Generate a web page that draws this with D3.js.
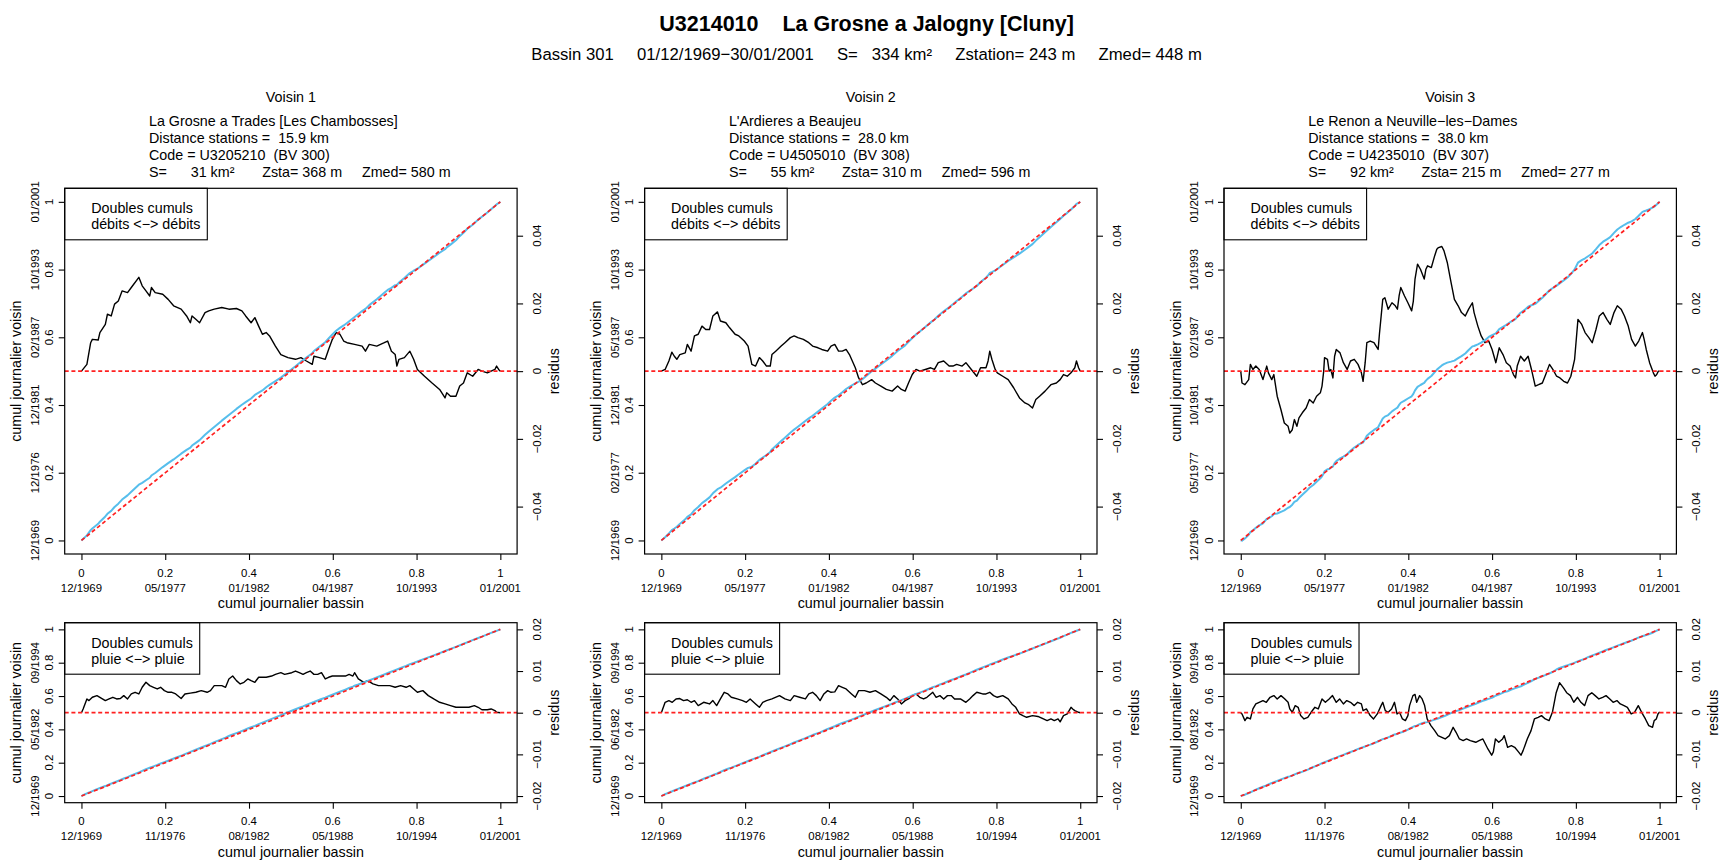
<!DOCTYPE html>
<html><head><meta charset="utf-8">
<script src="https://cdn.jsdelivr.net/npm/d3@7"></script>
<style>
body{margin:0;background:#fff}
svg{display:block}
text{font-family:"Liberation Sans",Arial,Helvetica,sans-serif;white-space:pre;fill:#000}
</style>
</head><body>
<script>
// ---------------- DATA ----------------
const mainTitle = "U3214010    La Grosne a Jalogny [Cluny]";
const mainSubtitle = "Bassin 301     01/12/1969\u221230/01/2001     S=   334 km\u00b2     Zstation= 243 m     Zmed= 448 m";

const neighbourTitles = ["Voisin 1", "Voisin 2", "Voisin 3"];
const neighbourNames = ["La Grosne a Trades [Les Chambosses]", "L'Ardieres a Beaujeu", "Le Renon a Neuville\u2212les\u2212Dames"];
const neighbourDistances = ["Distance stations =  15.9 km", "Distance stations =  28.0 km", "Distance stations =  38.0 km"];
const neighbourCodes = ["Code = U3205210  (BV 300)", "Code = U4505010  (BV 308)", "Code = U4235010  (BV 307)"];
const neighbourAreas = ["S=      31 km\u00b2       Zsta= 368 m     Zmed= 580 m",
                        "S=      55 km\u00b2       Zsta= 310 m     Zmed= 596 m",
                        "S=      92 km\u00b2       Zsta= 215 m     Zmed= 277 m"];

const cumulTicks = [0, 0.2, 0.4, 0.6, 0.8, 1];
const cumulTickLabels = ["0", "0.2", "0.4", "0.6", "0.8", "1"];
const flowXDates = ["12/1969", "05/1977", "01/1982", "04/1987", "10/1993", "01/2001"];
const rainXDates = ["12/1969", "11/1976", "08/1982", "05/1988", "10/1994", "01/2001"];
const flowYDates1 = ["12/1969", "12/1976", "12/1981", "02/1987", "10/1993", "01/2001"];
const flowYDates2 = ["12/1969", "02/1977", "12/1981", "05/1987", "10/1993", "01/2001"];
const flowYDates3 = ["12/1969", "05/1977", "10/1981", "02/1987", "10/1993", "01/2001"];
const rainYDates1 = ["12/1969", "", "05/1982", "", "09/1994", ""];
const rainYDates2 = ["12/1969", "", "06/1982", "", "09/1994", ""];
const rainYDates3 = ["12/1969", "", "08/1982", "", "09/1994", ""];

const flowResTicks = [-0.04, -0.02, 0, 0.02, 0.04];
const flowResTickLabels = ["\u22120.04", "\u22120.02", "0", "0.02", "0.04"];
const rainResTicks = [-0.02, -0.01, 0, 0.01, 0.02];
const rainResTickLabels = ["\u22120.02", "\u22120.01", "0", "0.01", "0.02"];

const flowLegend = ["Doubles cumuls", "d\u00e9bits <\u2212> d\u00e9bits"];
const rainLegend = ["Doubles cumuls", "pluie <\u2212> pluie"];
const xLabel = "cumul journalier bassin";
const yLabel = "cumul journalier voisin";
const rLabel = "residus";

// basin cumul (x) and residual (neighbour cumul - basin cumul), flows
const flowX1 = [0,.013,.022,.026,.040,.044,.057,.062,.071,.079,.088,.097,.110,.119,.137,.145,.154,.163,.167,.176,.194,.207,.220,.238,.251,.260,.264,.273,.282,.295,.304,.317,.335,.352,.370,.383,.392,.405,.414,.423,.432,.441,.449,.463,.476,.493,.511,.524,.537,.551,.555,.568,.582,.590,.599,.608,.617,.626,.634,.652,.670,.678,.687,.705,.723,.731,.740,.749,.753,.758,.771,.784,.793,.802,.819,.837,.855,.868,.872,.881,.894,.903,.912,.921,.934,.947,.956,.969,.978,.987,.991,.996,1];
const flowRes1 = [0,.0020,.0084,.0094,.0092,.0114,.0138,.0168,.0163,.0198,.0207,.0237,.0232,.0247,.0277,.0252,.0237,.0222,.0247,.0232,.0227,.0212,.0193,.0183,.0163,.0143,.0163,.0153,.0143,.0173,.0178,.0183,.0188,.0183,.0185,.0178,.0163,.0143,.0158,.0133,.0109,.0114,.0104,.0074,.0049,.0040,.0035,.0040,.0030,.0020,.0044,.0040,.0035,.0064,.0094,.0114,.0109,.0089,.0084,.0079,.0074,.0059,.0079,.0074,.0084,.0089,.0059,.0049,.0015,.0035,.0040,.0059,.0035,.0005,-.0015,-.0035,-.0054,-.0079,-.0064,-.0074,-.0074,-.0044,-.0035,-.0005,-.0015,.0005,0,-.0005,0,.0005,.0015,.0005,0];

const flowX2 = [0,.009,.018,.025,.031,.037,.044,.057,.062,.071,.079,.088,.097,.106,.115,.123,.134,.141,.154,.163,.176,.185,.198,.207,.216,.225,.234,.242,.251,.260,.264,.273,.286,.295,.308,.317,.326,.339,.352,.361,.374,.383,.397,.405,.414,.423,.432,.441,.449,.463,.471,.480,.489,.502,.511,.524,.537,.551,.564,.573,.582,.590,.599,.608,.617,.630,.643,.652,.661,.674,.687,.696,.705,.718,.727,.740,.753,.762,.775,.780,.784,.789,.797,.802,.815,.828,.841,.855,.868,.877,.886,.894,.903,.916,.930,.943,.952,.960,.969,.978,.987,.991,.996,1];
const flowRes2 = [0,.0005,.0030,.0056,.0044,.0035,.0049,.0054,.0079,.0059,.0104,.0109,.0133,.0123,.0123,.0163,.0175,.0148,.0143,.0128,.0109,.0104,.0089,.0074,.0020,.0015,.0040,.0030,.0015,.0015,.0049,.0059,.0074,.0084,.0099,.0104,.0099,.0094,.0084,.0074,.0069,.0064,.0059,.0074,.0079,.0059,.0059,.0064,.0049,.0010,-.0020,-.0040,-.0035,-.0025,-.0035,-.0044,-.0054,-.0059,-.0044,-.0054,-.0059,-.0035,-.0010,.0005,0,.0005,.0010,.0005,.0025,.0030,.0015,.0015,.0020,.0015,.0025,.0005,-.0015,.0010,.0010,.0030,.0059,.0035,.0005,-.0005,-.0015,-.0025,-.0049,-.0079,-.0094,-.0099,-.0109,-.0084,-.0074,-.0059,-.0040,-.0035,-.0025,-.0010,-.0015,-.0005,.0010,.0030,.0010,0];

const flowX3 = [0,.003,.010,.019,.023,.029,.036,.044,.053,.062,.066,.074,.079,.087,.096,.104,.113,.117,.123,.128,.134,.139,.147,.156,.164,.173,.181,.190,.194,.198,.200,.207,.211,.215,.220,.224,.228,.237,.245,.254,.262,.271,.280,.288,.292,.297,.301,.309,.318,.328,.331,.339,.344,.352,.361,.369,.374,.378,.382,.391,.399,.408,.412,.416,.422,.429,.438,.442,.446,.455,.463,.468,.472,.480,.485,.493,.502,.510,.519,.527,.536,.544,.553,.557,.566,.574,.583,.592,.600,.609,.617,.626,.634,.643,.651,.656,.660,.668,.677,.686,.694,.703,.711,.720,.728,.737,.745,.754,.762,.771,.780,.788,.797,.805,.814,.822,.831,.839,.848,.856,.865,.874,.882,.891,.899,.908,.916,.925,.933,.942,.950,.959,.963,.968,.976,.985,.989,.993,.997,1];
const flowRes3 = [0,-.0035,-.0040,-.0025,.0020,.0005,.0015,.0005,-.0025,.0015,-.0005,-.0025,-.0010,-.0074,-.0114,-.0153,-.0163,-.0183,-.0173,-.0143,-.0163,-.0138,-.0123,-.0109,-.0084,-.0094,-.0074,-.0064,-.0044,0,.0040,.0035,0,.0005,-.0020,.0044,.0064,.0054,.0025,.0005,.0030,.0035,.0020,-.0005,-.0030,.0025,.0084,.0089,.0084,.0064,.0109,.0212,.0217,.0183,.0202,.0193,.0183,.0222,.0247,.0222,.0202,.0178,.0207,.0272,.0316,.0301,.0272,.0301,.0311,.0306,.0341,.0360,.0365,.0368,.0356,.0321,.0262,.0212,.0193,.0173,.0163,.0183,.0202,.0173,.0133,.0104,.0084,.0089,.0064,.0025,.0069,.0049,.0025,.0015,-.0010,-.0020,.0015,.0044,.0030,.0044,.0005,-.0044,-.0040,-.0035,-.0010,.0020,.0005,-.0015,-.0020,-.0030,-.0035,-.0015,.0035,.0153,.0138,.0114,.0099,.0084,.0123,.0163,.0173,.0153,.0138,.0173,.0193,.0183,.0163,.0133,.0094,.0074,.0089,.0114,.0094,.0064,.0025,-.0005,-.0015,-.0010,0,0];

// rainfall double cumuls
const rainX1 = [0,.004,.013,.018,.026,.037,.049,.057,.066,.075,.084,.093,.101,.110,.119,.128,.137,.145,.154,.163,.172,.181,.189,.198,.207,.216,.225,.238,.247,.260,.273,.286,.300,.308,.317,.335,.344,.352,.361,.370,.379,.388,.397,.405,.414,.423,.441,.454,.463,.476,.485,.502,.511,.520,.529,.537,.546,.555,.564,.573,.582,.590,.599,.617,.630,.639,.648,.652,.661,.674,.683,.696,.709,.723,.736,.749,.762,.775,.784,.793,.802,.815,.828,.841,.855,.868,.881,.894,.908,.925,.938,.947,.956,.969,.978,.987,.991,1];
const rainRes1 = [0,.0009,.0033,.0029,.0037,.0041,.0034,.0029,.0033,.0037,.0033,.0034,.0041,.0033,.0045,.0049,.0045,.0061,.0073,.0065,.0061,.0057,.0061,.0053,.0049,.0049,.0045,.0034,.0045,.0047,.0049,.0053,.0049,.0053,.0065,.0065,.0061,.0081,.0088,.0077,.0069,.0073,.0081,.0077,.0073,.0085,.0085,.0088,.0092,.0096,.0092,.0096,.0100,.0096,.0092,.0096,.0100,.0092,.0092,.0096,.0081,.0085,.0088,.0088,.0088,.0092,.0088,.0096,.0081,.0073,.0077,.0069,.0065,.0065,.0065,.0061,.0065,.0061,.0065,.0057,.0049,.0053,.0041,.0033,.0025,.0021,.0017,.0013,.0013,.0013,.0017,.0013,.0007,.0007,.0009,.0005,.0001,0];

const rainX2 = [0,.009,.018,.026,.035,.044,.053,.062,.071,.079,.088,.101,.115,.123,.132,.141,.150,.159,.167,.181,.194,.203,.212,.225,.234,.242,.251,.264,.282,.295,.308,.317,.330,.344,.352,.361,.370,.379,.388,.397,.405,.414,.423,.432,.441,.454,.463,.471,.485,.498,.511,.524,.537,.546,.555,.564,.573,.582,.590,.599,.608,.617,.626,.634,.648,.656,.665,.674,.683,.692,.700,.714,.727,.736,.744,.753,.767,.775,.784,.793,.802,.815,.828,.837,.846,.855,.863,.872,.886,.899,.912,.921,.930,.938,.947,.952,.960,.969,.978,.982,.987,.996,1];
const rainRes2 = [0,.0025,.0029,.0025,.0033,.0034,.0029,.0031,.0025,.0029,.0017,.0025,.0021,.0029,.0017,.0033,.0049,.0045,.0037,.0033,.0029,.0025,.0033,.0021,.0013,.0025,.0029,.0033,.0041,.0033,.0029,.0041,.0037,.0033,.0045,.0049,.0041,.0029,.0045,.0053,.0049,.0050,.0065,.0061,.0057,.0045,.0037,.0053,.0053,.0049,.0053,.0045,.0037,.0029,.0041,.0033,.0021,.0029,.0033,.0041,.0045,.0037,.0033,.0037,.0049,.0037,.0041,.0033,.0041,.0041,.0033,.0033,.0025,.0033,.0041,.0049,.0045,.0045,.0049,.0041,.0037,.0041,.0033,.0021,.0013,-.0003,-.0007,-.0011,-.0007,-.0009,-.0015,-.0019,-.0015,-.0019,-.0015,-.0022,-.0007,-.0003,.0013,.0009,.0005,.0001,0];

const rainX3 = [0,.003,.010,.015,.023,.029,.036,.044,.053,.061,.070,.079,.087,.096,.104,.113,.117,.123,.130,.137,.143,.151,.160,.168,.177,.185,.194,.202,.211,.219,.228,.236,.245,.253,.262,.271,.279,.288,.292,.300,.309,.317,.326,.335,.339,.345,.352,.360,.367,.373,.379,.386,.393,.399,.403,.411,.416,.420,.427,.433,.439,.445,.454,.463,.471,.480,.488,.498,.507,.514,.522,.531,.539,.548,.561,.569,.578,.584,.590,.599,.603,.608,.616,.625,.629,.637,.646,.654,.663,.669,.674,.684,.693,.701,.710,.718,.727,.736,.744,.753,.761,.770,.778,.787,.795,.804,.812,.821,.829,.838,.846,.855,.864,.872,.881,.889,.898,.906,.915,.923,.932,.940,.949,.957,.966,.974,.983,.987,.992,.996,1];
const rainRes3 = [0,-.0003,-.0019,-.0011,-.0015,.0009,.0021,.0025,.0029,.0025,.0037,.0041,.0033,.0041,.0034,.0025,.0009,.0001,.0017,.0013,-.0007,-.0015,-.0011,.0001,.0013,.0009,.0033,.0025,.0033,.0041,.0025,.0033,.0021,.0029,.0025,.0017,.0025,.0021,.0005,.0009,-.0007,-.0015,-.0003,.0017,.0025,.0005,.0001,.0009,.0025,-.0003,.0001,-.0015,-.0019,-.0007,.0017,.0041,.0044,.0025,.0041,.0033,.0017,-.0015,-.0031,-.0043,-.0055,-.0059,-.0063,-.0055,-.0035,-.0047,-.0063,-.0067,-.0063,-.0067,-.0071,-.0067,-.0063,-.0075,-.0087,-.0102,-.0094,-.0063,-.0071,-.0063,-.0055,-.0083,-.0079,-.0083,-.0094,-.0102,-.0091,-.0063,-.0043,-.0015,-.0011,-.0007,-.0015,-.0019,.0001,.0048,.0072,.0060,.0048,.0041,.0025,.0037,.0025,.0017,.0041,.0048,.0041,.0033,.0037,.0041,.0033,.0025,.0029,.0021,.0017,.0013,-.0003,.0001,.0017,.0001,-.0015,-.0031,-.0035,-.0019,-.0015,-.0003,.0002];

// ---------------- LAYOUT ----------------
const W = 1722, H = 861;
const FONT = 14.3, SMALL = 11.4, SUB = 16.7;
const BOX_W = 452.4;
const boxLefts = [64.7, 644.6, 1224.0];
const rowTop = {top: 188.3, bottom: 554.0};
const rowBot = {top: 622.7, bottom: 802.7};
const BLUE = "#56BEEC", RED = "#FF2020";

const svg = d3.select("body").append("svg")
  .attr("width", W).attr("height", H)
  .attr("xmlns", "http://www.w3.org/2000/svg");
svg.append("rect").attr("width", W).attr("height", H).attr("fill", "#fff");

svg.append("text").attr("x", 866.6).attr("y", 30.7).attr("text-anchor", "middle")
  .attr("font-size", 21.5).attr("font-weight", "bold").text(mainTitle);
svg.append("text").attr("x", 866.6).attr("y", 60.2).attr("text-anchor", "middle")
  .attr("font-size", SUB).text(mainSubtitle);

function drawPanel(L, row, xs, rs, rSpan, rTicks, rTickLabels, xDates, yDates, legendLines) {
  const T = row.top, B = row.bottom, R = L + BOX_W;
  const g = svg.append("g");
  const x = d3.scaleLinear().domain([-0.04, 1.04]).range([L, R]);
  const y = d3.scaleLinear().domain([-0.04, 1.04]).range([B, T]);
  const yr = d3.scaleLinear().domain([-rSpan, rSpan]).range([B, T]);

  const ax = g.append("g").attr("transform", `translate(0,${B})`)
    .call(d3.axisBottom(x).tickValues(cumulTicks).tickSize(6).tickSizeOuter(0).tickFormat(""));
  const ay = g.append("g").attr("transform", `translate(${L},0)`)
    .call(d3.axisLeft(y).tickValues(cumulTicks).tickSize(6).tickSizeOuter(0).tickFormat(""));
  const ar = g.append("g").attr("transform", `translate(${R},0)`)
    .call(d3.axisRight(yr).tickValues(rTicks).tickSize(6).tickSizeOuter(0).tickFormat(""));
  [ax, ay, ar].forEach(a => {
    a.select(".domain").remove();
    a.selectAll("line").attr("stroke", "#000").attr("stroke-width", 1.1);
  });

  cumulTicks.forEach((v, i) => {
    g.append("text").attr("x", x(v)).attr("y", B + 22.7).attr("text-anchor", "middle")
      .attr("font-size", SMALL).text(cumulTickLabels[i]);
    g.append("text").attr("x", x(v)).attr("y", B + 37.7).attr("text-anchor", "middle")
      .attr("font-size", SMALL).text(xDates[i]);
    g.append("text").attr("transform", `translate(${L - 11.3},${y(v)}) rotate(-90)`)
      .attr("text-anchor", "middle").attr("font-size", SMALL).text(cumulTickLabels[i]);
    if (yDates[i]) g.append("text").attr("transform", `translate(${L - 25.6},${y(v)}) rotate(-90)`)
      .attr("text-anchor", "middle").attr("font-size", SMALL).text(yDates[i]);
  });
  rTicks.forEach((v, i) => {
    g.append("text").attr("transform", `translate(${R + 23.7},${yr(v)}) rotate(-90)`)
      .attr("text-anchor", "middle").attr("font-size", SMALL).text(rTickLabels[i]);
  });
  g.append("text").attr("x", (L + R) / 2).attr("y", B + 54.3).attr("text-anchor", "middle")
    .attr("font-size", FONT).text(xLabel);
  g.append("text").attr("transform", `translate(${L - 43.5},${(T + B) / 2}) rotate(-90)`)
    .attr("text-anchor", "middle").attr("font-size", FONT).text(yLabel);
  g.append("text").attr("transform", `translate(${R + 42},${(T + B) / 2}) rotate(-90)`)
    .attr("text-anchor", "middle").attr("font-size", FONT).text(rLabel);

  const pts = d3.zip(xs, rs);
  // residual curve
  g.append("path").attr("d", d3.line().x(d => x(d[0])).y(d => yr(d[1]))(pts))
    .attr("fill", "none").attr("stroke", "#000").attr("stroke-width", 1.4).attr("stroke-linejoin", "round");
  // neighbour cumul = basin cumul + residual
  g.append("path").attr("d", d3.line().x(d => x(d[0])).y(d => y(d[0] + d[1]))(pts))
    .attr("fill", "none").attr("stroke", BLUE).attr("stroke-width", 2).attr("stroke-linejoin", "round");
  // reference diagonal
  g.append("line").attr("x1", x(0)).attr("y1", y(0)).attr("x2", x(1)).attr("y2", y(1))
    .attr("stroke", RED).attr("stroke-width", 1.7).attr("stroke-dasharray", "4,2.7");
  // zero residual line
  g.append("line").attr("x1", L).attr("x2", R).attr("y1", yr(0)).attr("y2", yr(0))
    .attr("stroke", RED).attr("stroke-width", 1.7).attr("stroke-dasharray", "4,2.7");

  // legend
  const lg = g.append("g");
  const lt = legendLines.map((s, i) => lg.append("text").attr("x", L + 26.5).attr("y", T + 24.8 + i * 16)
    .attr("font-size", FONT).text(s));
  const tw = d3.max(lt, t => t.node().getComputedTextLength());
  lg.insert("rect", "text").attr("x", L).attr("y", T).attr("width", 26.5 + tw + 6.8).attr("height", 51.5)
    .attr("fill", "#fff").attr("stroke", "#000").attr("stroke-width", 1.1);

  // box
  g.append("rect").attr("x", L).attr("y", T).attr("width", BOX_W).attr("height", B - T)
    .attr("fill", "none").attr("stroke", "#000").attr("stroke-width", 1.2);
}

const flowData = [[flowX1, flowRes1], [flowX2, flowRes2], [flowX3, flowRes3]];
const rainData = [[rainX1, rainRes1], [rainX2, rainRes2], [rainX3, rainRes3]];
const flowYDates = [flowYDates1, flowYDates2, flowYDates3];
const rainYDates = [rainYDates1, rainYDates2, rainYDates3];

boxLefts.forEach((L, i) => {
  const cx = L + BOX_W / 2;
  svg.append("text").attr("x", cx).attr("y", 102).attr("text-anchor", "middle")
    .attr("font-size", FONT).text(neighbourTitles[i]);
  [neighbourNames[i], neighbourDistances[i], neighbourCodes[i], neighbourAreas[i]].forEach((s, k) => {
    svg.append("text").attr("x", L + 84.3).attr("y", 125.7 + k * 17).attr("font-size", FONT).text(s);
  });
  drawPanel(L, rowTop, flowData[i][0], flowData[i][1], 0.054, flowResTicks, flowResTickLabels,
            flowXDates, flowYDates[i], flowLegend);
  drawPanel(L, rowBot, rainData[i][0], rainData[i][1], 0.0216, rainResTicks, rainResTickLabels,
            rainXDates, rainYDates[i], rainLegend);
});
</script>
</body></html>
